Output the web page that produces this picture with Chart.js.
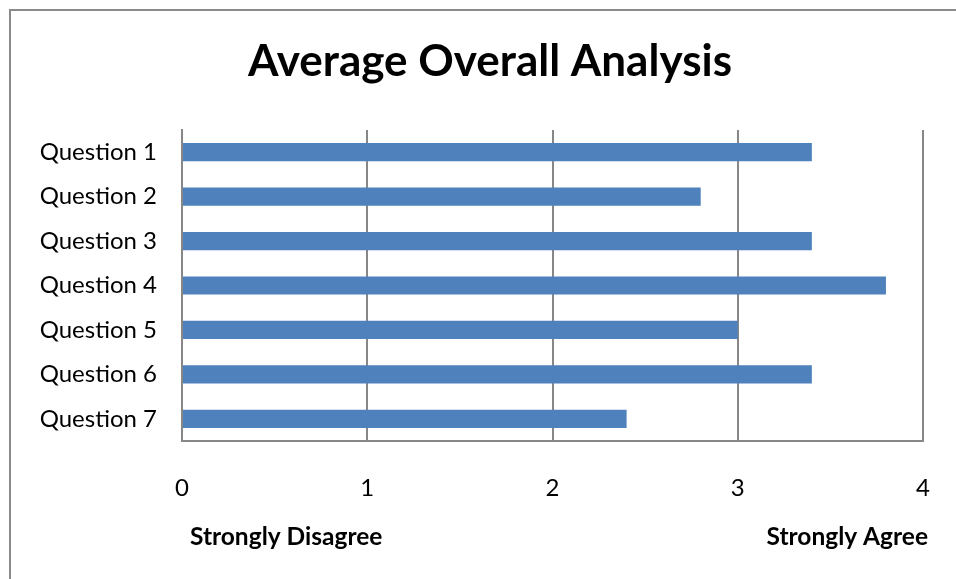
<!DOCTYPE html>
<html>
<head>
<meta charset="utf-8">
<script src="https://cdn.jsdelivr.net/npm/chart.js@4.4.1/dist/chart.umd.min.js"></script>
<style>
  html, body { margin: 0; padding: 0; background: #fff; }
  canvas { display: block; }
</style>
</head>
<body>
<canvas id="chart" width="956" height="579"></canvas>
<script>
const questions = ['Question 1', 'Question 2', 'Question 3', 'Question 4', 'Question 5', 'Question 6', 'Question 7'];
const averages = [3.4, 2.8, 3.4, 3.8, 3.0, 3.4, 2.4];
const chartTitle = 'Average Overall Analysis';
const scaleEnds = ['Strongly Disagree', 'Strongly Agree'];

const FONT = 'Lato, "Open Sans", sans-serif';
const GRID = '#878787';

// outer frame, title and the two scale-end captions under the axis
const framePlugin = {
    id: 'frame',
    beforeDraw(chart) {
        const ctx = chart.ctx;
        ctx.save();
        ctx.fillStyle = '#fff';
        ctx.fillRect(0, 0, chart.width, chart.height);
        ctx.strokeStyle = '#8a8a8a';
        ctx.lineWidth = 2;
        ctx.strokeRect(10, 10, chart.width + 20, chart.height + 20);
        ctx.restore();
    },
    afterDraw(chart) {
        const ctx = chart.ctx;
        ctx.save();
        ctx.fillStyle = '#000';
        ctx.textBaseline = 'middle';
        ctx.textAlign = 'center';
        ctx.font = 'bold 44px ' + FONT;
        ctx.fillText(chartTitle, 490, 62);
        ctx.font = 'bold 24.5px ' + FONT;
        ctx.textAlign = 'left';
        ctx.fillText(scaleEnds[0], 190, 537);
        ctx.textAlign = 'right';
        ctx.fillText(scaleEnds[1], 928, 537);
        ctx.restore();
    }
};

new Chart(document.getElementById('chart'), {
    type: 'bar',
    data: {
        labels: questions,
        datasets: [{
            data: averages,
            backgroundColor: '#4F81BD',
            borderWidth: 0,
            barPercentage: 0.41,
            categoryPercentage: 1
        }]
    },
    options: {
        indexAxis: 'y',
        responsive: false,
        animation: false,
        layout: { padding: { left: 10, right: 33, top: 130, bottom: 0 } },
        plugins: {
            legend: { display: false },
            tooltip: { enabled: false },
            title: { display: false }
        },
        scales: {
            x: {
                min: 0,
                max: 4,
                ticks: {
                    stepSize: 1,
                    color: '#000',
                    padding: 33,
                    font: { family: FONT, size: 24 }
                },
                grid: { color: GRID, lineWidth: 2, drawTicks: false },
                border: { display: true, color: GRID, width: 2 },
                afterFit(scale) {
                    // keep the tick padding from eating into the plot width
                    scale.height = 138;
                    scale.paddingLeft = 0;
                    scale.paddingRight = 0;
                }
            },
            y: {
                ticks: {
                    color: '#000',
                    padding: 25,
                    font: { family: FONT, size: 24 }
                },
                grid: { display: false, drawTicks: false },
                border: { display: true, color: GRID, width: 2 },
                afterFit(scale) { scale.width = 172; }
            }
        }
    },
    plugins: [framePlugin]
});
</script>
</body>
</html>
